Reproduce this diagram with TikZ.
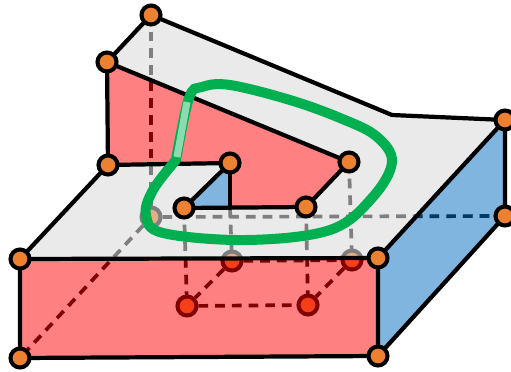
\documentclass[tikz,border=0pt]{standalone}
\usepackage{xcolor}
\usepackage{tikz}
\pgfdeclarelayer{faces}
\pgfdeclarelayer{edges}
\pgfsetlayers{faces,edges,main}
\definecolor{facegrey}{HTML}{EAEAEA}
\definecolor{facered}{HTML}{FF8080}
\definecolor{faceblue}{HTML}{7FB5DF}
\definecolor{ptorange}{HTML}{ED8132}
\definecolor{ptfaded}{HTML}{E5AE85}
\definecolor{ptred}{HTML}{F63F18}
\definecolor{hidered}{HTML}{800000}
\definecolor{hideblue}{HTML}{003A66}
\definecolor{hidegrey}{HTML}{7F7F7F}
\definecolor{loopgreen}{HTML}{00B050}
\definecolor{looplight}{HTML}{8ADBB0}

\begin{document}
\begin{tikzpicture}[x=0.02cm, y=-0.02cm,
    pt/.style={circle, draw=black, fill=ptorange, line width=2.3pt, inner sep=0pt, minimum size=0.38cm},
    backpt/.style={pt, draw=hidegrey, fill=ptfaded},
    lowpt/.style={pt, draw=hidered, fill=ptred},
    edge/.style={draw=black, line width=2.4pt, line cap=round, line join=round},
    hide/.style={line width=2.1pt, dash pattern=on 5.5pt off 4pt}]
    \useasboundingbox (0,0) rectangle (511,372);

    % Visible corners
    \node[pt] (top) at (151,15) {};
    \node[pt] (upleft) at (107,62) {};
    \node[pt] (stepleft) at (108,165) {};
    \node[pt] (notchback) at (230,163) {};
    \node[pt] (notchfront) at (184,208) {};
    \node[pt] (notchright) at (306,207) {};
    \node[pt] (stepright) at (349,162) {};
    \node[pt] (backtop) at (505,120) {};
    \node[pt] (backbot) at (505,216) {};
    \node[pt] (frontright) at (378,258) {};
    \node[pt] (frontbotr) at (378,356) {};
    \node[pt] (frontleft) at (20,259) {};
    \node[pt] (frontbotl) at (20,358) {};
    % Corners without a point on them
    \coordinate (bend) at (392,115);
    \coordinate (notchin) at (230,208);

    \begin{pgfonlayer}{faces}
        \fill[facegrey] (top.center) -- (bend) -- (backtop.center) -- (frontright.center) -- (frontleft.center) -- (stepleft.center) -- (notchback.center) -- (notchfront.center) -- (notchright.center) -- (stepright.center) -- (upleft.center) -- cycle;
        \fill[facered] (upleft.center) -- (stepright.center) -- (notchright.center) -- (notchin) -- (notchback.center) -- (stepleft.center) -- cycle;
        \fill[facered] (frontleft.center) -- (frontright.center) -- (frontbotr.center) -- (frontbotl.center) -- cycle;
        \fill[faceblue] (notchback.center) -- (notchfront.center) -- (notchin) -- cycle;
        \fill[faceblue] (frontright.center) -- (backtop.center) -- (backbot.center) -- (frontbotr.center) -- cycle;
    \end{pgfonlayer}

    \begin{pgfonlayer}{edges}
        % Hidden lines, seen through the grey top
        \draw[hide, hidegrey] (top.center) -- (151,217);
        \node[backpt] (under) at (151,217) {};
        \draw[hide, hidegrey] (under) -- (backbot.center);
        \draw[hide, hidegrey] (under) -- (frontbotl.center);
        \draw[hide, hidegrey] (notchfront.center) -- (187,306);
        \draw[hide, hidegrey] (notchin) -- (232,261);
        \draw[hide, hidegrey] (notchright.center) -- (308,305);
        \draw[hide, hidegrey] (stepright.center) -- (352,260);
        \node[backpt] (lowback) at (232,261) {};
        \node[backpt] (lowbackr) at (352,260) {};

        % The same lines, seen through the red faces
        \begin{scope}
            \clip (upleft.center) -- (stepright.center) -- (notchright.center) -- (notchin) -- (notchback.center) -- (stepleft.center) -- cycle
                  (frontleft.center) -- (frontright.center) -- (frontbotr.center) -- (frontbotl.center) -- cycle;
            \fill[facered] (0,0) rectangle (511,372);
            \draw[hide, hidered] (top.center) -- (under.center);
            \draw[hide, hidered] (under) -- (frontbotl.center);
            \draw[hide, hidered] (notchfront.center) -- (187,306);
            \draw[hide, hidered] (notchright.center) -- (308,305);
            \node[lowpt] (lowbackred) at (232,261) {};
            \node[lowpt] (lowbackrred) at (352,260) {};
            \node[lowpt] (lowfront) at (187,306) {};
            \node[lowpt] (lowfrontr) at (308,305) {};
            \draw[hide, hidered] (lowbackred) -- (lowbackrred);
            \draw[hide, hidered] (lowbackred) -- (lowfront);
            \draw[hide, hidered] (lowbackrred) -- (lowfrontr);
            \draw[hide, hidered] (lowfront) -- (lowfrontr);
        \end{scope}

        % Back edge behind the blue side
        \begin{scope}
            \clip (frontright.center) -- (backtop.center) -- (backbot.center) -- (frontbotr.center) -- cycle;
            \draw[hide, hideblue] (under) -- (backbot.center);
        \end{scope}

        % Visible edges
        \draw[edge] (upleft.center) -- (top.center) -- (bend) -- (backtop.center) -- (backbot.center) -- (frontbotr.center);
        \draw[edge] (upleft.center) -- (stepright.center) -- (notchright.center) -- (notchfront.center) -- (notchback.center) -- (stepleft.center) -- (upleft.center);
        \draw[edge] (notchback.center) -- (notchin);
        \draw[edge] (stepleft.center) -- (frontleft.center) -- (frontright.center) -- (backtop.center);
        \draw[edge] (frontleft.center) -- (frontbotl.center) -- (frontbotr.center) -- (frontright.center);

        % Loop on the surface
        \draw[loopgreen, line width=5.7pt, line cap=round] plot[smooth, tension=0.6] coordinates {(176,160) (153,190) (146,215) (163,233) (247,240) (330,230) (372,198) (392,162) (376,136) (340,118) (290,100) (230,85) (202,87) (189,98) (176,160)};
        \draw[looplight, line width=4pt] (177,157) -- (187,102);
    \end{pgfonlayer}
\end{tikzpicture}
\end{document}
